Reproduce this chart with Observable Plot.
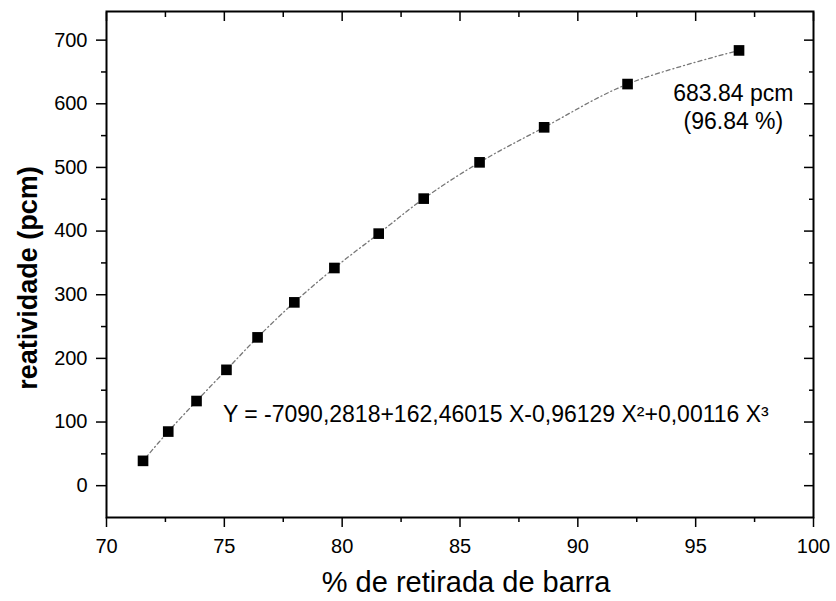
<!DOCTYPE html>
<html><head><meta charset="utf-8">
<script src="https://cdn.jsdelivr.net/npm/d3@7"></script>
<script src="https://cdn.jsdelivr.net/npm/@observablehq/plot@0.6"></script>
<style>
body{margin:0;background:#fff;}
</style>
</head><body><div id="chart"></div>
<script>
// % de retirada de barra (x) and reatividade in pcm (y)
const retirada = [71.55, 72.62, 73.82, 75.09, 76.41, 77.97, 79.67, 81.55, 83.46, 85.83, 88.57, 92.11, 96.84];
const reatividade = [39, 85, 133, 182, 233, 288, 342, 396, 451, 508, 563, 631, 683.84];

const xMajorTicks = [70, 75, 80, 85, 90, 95, 100];
const xMinorTicks = [72.5, 77.5, 82.5, 87.5, 92.5, 97.5];
const yMajorTicks = [0, 100, 200, 300, 400, 500, 600, 700];
const yMinorTicks = [50, 150, 250, 350, 450, 550, 650];

const xLabel = "% de retirada de barra";
const yLabel = "reatividade (pcm)";
const equationText = "Y = -7090,2818+162,46015 X-0,96129 X²+0,00116 X³";
const endLabelText = "683.84 pcm\n(96.84 %)";
const equationAnchor = {x: 74.94, y: 111};
const endLabelAnchor = {x: 96.6, y: 596};

const points = retirada.map((x, i) => ({x, y: reatividade[i]}));
const font = "'Liberation Sans', Arial, sans-serif";

const chart = Plot.plot({
  width: 836, height: 601,
  marginLeft: 106, marginRight: 23, marginTop: 11, marginBottom: 84,
  style: {fontFamily: font, fontSize: "20px", background: "#fff", color: "#000", overflow: "visible"},
  x: {domain: [70, 100]},
  y: {domain: [-50, 745]},
  marks: [
    Plot.axisX(xMajorTicks, {anchor: "bottom", tickSize: 10, tickPadding: 11, strokeWidth: 1.5, label: null}),
    Plot.axisX(xMinorTicks, {anchor: "bottom", tickSize: 5, fill: "none", strokeWidth: 1.5, label: null}),
    Plot.axisX(xMajorTicks, {anchor: "top", tickSize: -9, fill: "none", strokeWidth: 1.5, label: null}),
    Plot.axisX(xMinorTicks, {anchor: "top", tickSize: -5, fill: "none", strokeWidth: 1.5, label: null}),
    Plot.axisY(yMajorTicks, {anchor: "left", tickSize: 10, tickPadding: 9, strokeWidth: 1.5, label: null}),
    Plot.axisY(yMinorTicks, {anchor: "left", tickSize: 5, fill: "none", strokeWidth: 1.5, label: null}),
    Plot.axisY(yMajorTicks, {anchor: "right", tickSize: -10, fill: "none", strokeWidth: 1.5, label: null}),
    Plot.axisY(yMinorTicks, {anchor: "right", tickSize: -5, fill: "none", strokeWidth: 1.5, label: null}),
    Plot.frame({stroke: "#000", strokeWidth: 2}),
    Plot.line(points, {x: "x", y: "y", curve: "catmull-rom", stroke: "#777", strokeWidth: 1.3, strokeDasharray: "4,3,1,3"}),
    Plot.dot(points, {x: "x", y: "y", symbol: "square", r: 6, fill: "#000", stroke: "none"}),
    Plot.text([equationAnchor], {x: "x", y: "y", text: () => equationText, textAnchor: "start", fontSize: 23}),
    Plot.text([endLabelAnchor], {x: "x", y: "y", text: () => endLabelText, textAnchor: "middle", lineAnchor: "middle", lineHeight: 1.22, fontSize: 23}),
    Plot.text([xLabel], {text: d => d, frameAnchor: "bottom", textAnchor: "middle", dx: 6, dy: 65, fontSize: 29, lineAnchor: "middle"}),
    Plot.text([yLabel], {text: d => d, frameAnchor: "left", textAnchor: "middle", rotate: -90, dx: -78.5, dy: 13.5, fontSize: 27, fontWeight: "bold", lineAnchor: "middle"})
  ]
});
document.getElementById("chart").appendChild(chart);
</script>
</body></html>
